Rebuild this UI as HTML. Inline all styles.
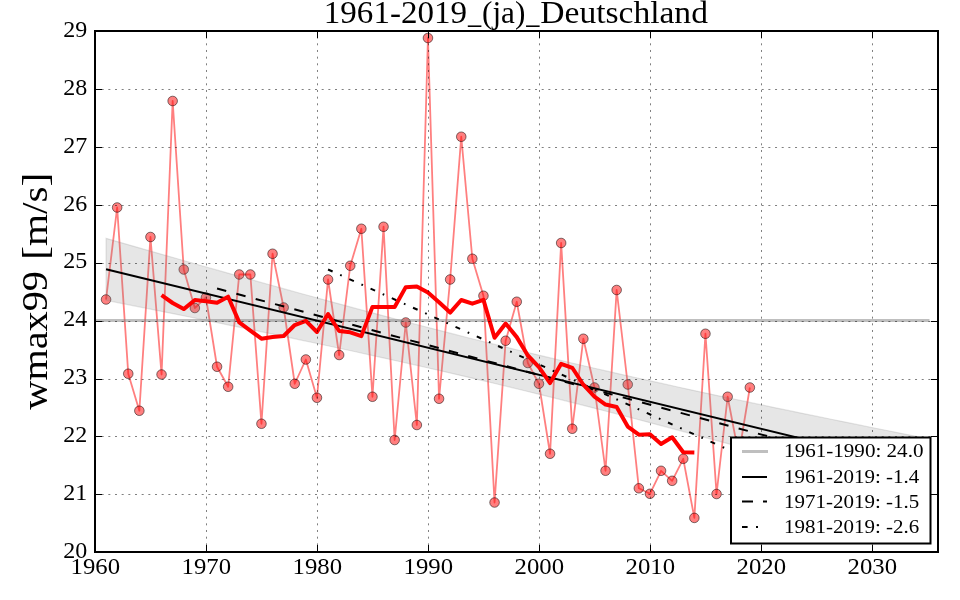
<!DOCTYPE html><html><head><meta charset="utf-8"><style>html,body{margin:0;padding:0;background:#fff;}svg{display:block;will-change:transform}</style></head><body>
<svg width="960" height="600" viewBox="0 0 960 600" font-family="'Liberation Serif', serif">
<rect width="960" height="600" fill="#fff"/>
<defs><clipPath id="ax"><rect x="95.0" y="31.0" width="843.0" height="520.8"/></clipPath></defs>
<g clip-path="url(#ax)">
<polyline points="106.05,299.5 117.15,207.5 128.25,373.75 139.35,410.75 150.45,237 161.55,374.5 172.65,101 183.75,269.5 194.85,308 205.95,297.5 217.05,366.75 228.15,386.75 239.25,274.5 250.35,274.5 261.45,423.75 272.55,253.75 283.65,307.5 294.75,383.75 305.85,359.5 316.95,397.75 328.05,279.5 339.15,355 350.25,265.75 361.35,228.75 372.45,396.75 383.55,226.75 394.65,440 405.75,322.5 416.85,425 427.95,38 439.05,398.75 450.15,279.5 461.25,136.75 472.35,258.75 483.45,295.75 494.55,502.5 505.65,340.75 516.75,301.75 527.85,363 538.95,383.75 550.05,453.75 561.15,243 572.25,428.75 583.35,338.75 594.45,387.5 605.55,470.75 616.65,290 627.75,384.5 638.85,488.3 649.95,493.8 661.05,470.8 672.15,480.8 683.25,458.8 694.35,517.9 705.45,333.75 716.55,494 727.65,396.75 738.75,455 749.85,387.5" fill="none" stroke="#ff0000" stroke-opacity="0.5" stroke-width="1.8" stroke-linejoin="round"/>
<circle cx="106.05" cy="299.5" r="4.8" fill="#ff0000" fill-opacity="0.5" stroke="#000" stroke-opacity="0.5" stroke-width="1"/>
<circle cx="117.15" cy="207.5" r="4.8" fill="#ff0000" fill-opacity="0.5" stroke="#000" stroke-opacity="0.5" stroke-width="1"/>
<circle cx="128.25" cy="373.75" r="4.8" fill="#ff0000" fill-opacity="0.5" stroke="#000" stroke-opacity="0.5" stroke-width="1"/>
<circle cx="139.35" cy="410.75" r="4.8" fill="#ff0000" fill-opacity="0.5" stroke="#000" stroke-opacity="0.5" stroke-width="1"/>
<circle cx="150.45" cy="237" r="4.8" fill="#ff0000" fill-opacity="0.5" stroke="#000" stroke-opacity="0.5" stroke-width="1"/>
<circle cx="161.55" cy="374.5" r="4.8" fill="#ff0000" fill-opacity="0.5" stroke="#000" stroke-opacity="0.5" stroke-width="1"/>
<circle cx="172.65" cy="101" r="4.8" fill="#ff0000" fill-opacity="0.5" stroke="#000" stroke-opacity="0.5" stroke-width="1"/>
<circle cx="183.75" cy="269.5" r="4.8" fill="#ff0000" fill-opacity="0.5" stroke="#000" stroke-opacity="0.5" stroke-width="1"/>
<circle cx="194.85" cy="308" r="4.8" fill="#ff0000" fill-opacity="0.5" stroke="#000" stroke-opacity="0.5" stroke-width="1"/>
<circle cx="205.95" cy="297.5" r="4.8" fill="#ff0000" fill-opacity="0.5" stroke="#000" stroke-opacity="0.5" stroke-width="1"/>
<circle cx="217.05" cy="366.75" r="4.8" fill="#ff0000" fill-opacity="0.5" stroke="#000" stroke-opacity="0.5" stroke-width="1"/>
<circle cx="228.15" cy="386.75" r="4.8" fill="#ff0000" fill-opacity="0.5" stroke="#000" stroke-opacity="0.5" stroke-width="1"/>
<circle cx="239.25" cy="274.5" r="4.8" fill="#ff0000" fill-opacity="0.5" stroke="#000" stroke-opacity="0.5" stroke-width="1"/>
<circle cx="250.35" cy="274.5" r="4.8" fill="#ff0000" fill-opacity="0.5" stroke="#000" stroke-opacity="0.5" stroke-width="1"/>
<circle cx="261.45" cy="423.75" r="4.8" fill="#ff0000" fill-opacity="0.5" stroke="#000" stroke-opacity="0.5" stroke-width="1"/>
<circle cx="272.55" cy="253.75" r="4.8" fill="#ff0000" fill-opacity="0.5" stroke="#000" stroke-opacity="0.5" stroke-width="1"/>
<circle cx="283.65" cy="307.5" r="4.8" fill="#ff0000" fill-opacity="0.5" stroke="#000" stroke-opacity="0.5" stroke-width="1"/>
<circle cx="294.75" cy="383.75" r="4.8" fill="#ff0000" fill-opacity="0.5" stroke="#000" stroke-opacity="0.5" stroke-width="1"/>
<circle cx="305.85" cy="359.5" r="4.8" fill="#ff0000" fill-opacity="0.5" stroke="#000" stroke-opacity="0.5" stroke-width="1"/>
<circle cx="316.95" cy="397.75" r="4.8" fill="#ff0000" fill-opacity="0.5" stroke="#000" stroke-opacity="0.5" stroke-width="1"/>
<circle cx="328.05" cy="279.5" r="4.8" fill="#ff0000" fill-opacity="0.5" stroke="#000" stroke-opacity="0.5" stroke-width="1"/>
<circle cx="339.15" cy="355" r="4.8" fill="#ff0000" fill-opacity="0.5" stroke="#000" stroke-opacity="0.5" stroke-width="1"/>
<circle cx="350.25" cy="265.75" r="4.8" fill="#ff0000" fill-opacity="0.5" stroke="#000" stroke-opacity="0.5" stroke-width="1"/>
<circle cx="361.35" cy="228.75" r="4.8" fill="#ff0000" fill-opacity="0.5" stroke="#000" stroke-opacity="0.5" stroke-width="1"/>
<circle cx="372.45" cy="396.75" r="4.8" fill="#ff0000" fill-opacity="0.5" stroke="#000" stroke-opacity="0.5" stroke-width="1"/>
<circle cx="383.55" cy="226.75" r="4.8" fill="#ff0000" fill-opacity="0.5" stroke="#000" stroke-opacity="0.5" stroke-width="1"/>
<circle cx="394.65" cy="440" r="4.8" fill="#ff0000" fill-opacity="0.5" stroke="#000" stroke-opacity="0.5" stroke-width="1"/>
<circle cx="405.75" cy="322.5" r="4.8" fill="#ff0000" fill-opacity="0.5" stroke="#000" stroke-opacity="0.5" stroke-width="1"/>
<circle cx="416.85" cy="425" r="4.8" fill="#ff0000" fill-opacity="0.5" stroke="#000" stroke-opacity="0.5" stroke-width="1"/>
<circle cx="427.95" cy="38" r="4.8" fill="#ff0000" fill-opacity="0.5" stroke="#000" stroke-opacity="0.5" stroke-width="1"/>
<circle cx="439.05" cy="398.75" r="4.8" fill="#ff0000" fill-opacity="0.5" stroke="#000" stroke-opacity="0.5" stroke-width="1"/>
<circle cx="450.15" cy="279.5" r="4.8" fill="#ff0000" fill-opacity="0.5" stroke="#000" stroke-opacity="0.5" stroke-width="1"/>
<circle cx="461.25" cy="136.75" r="4.8" fill="#ff0000" fill-opacity="0.5" stroke="#000" stroke-opacity="0.5" stroke-width="1"/>
<circle cx="472.35" cy="258.75" r="4.8" fill="#ff0000" fill-opacity="0.5" stroke="#000" stroke-opacity="0.5" stroke-width="1"/>
<circle cx="483.45" cy="295.75" r="4.8" fill="#ff0000" fill-opacity="0.5" stroke="#000" stroke-opacity="0.5" stroke-width="1"/>
<circle cx="494.55" cy="502.5" r="4.8" fill="#ff0000" fill-opacity="0.5" stroke="#000" stroke-opacity="0.5" stroke-width="1"/>
<circle cx="505.65" cy="340.75" r="4.8" fill="#ff0000" fill-opacity="0.5" stroke="#000" stroke-opacity="0.5" stroke-width="1"/>
<circle cx="516.75" cy="301.75" r="4.8" fill="#ff0000" fill-opacity="0.5" stroke="#000" stroke-opacity="0.5" stroke-width="1"/>
<circle cx="527.85" cy="363" r="4.8" fill="#ff0000" fill-opacity="0.5" stroke="#000" stroke-opacity="0.5" stroke-width="1"/>
<circle cx="538.95" cy="383.75" r="4.8" fill="#ff0000" fill-opacity="0.5" stroke="#000" stroke-opacity="0.5" stroke-width="1"/>
<circle cx="550.05" cy="453.75" r="4.8" fill="#ff0000" fill-opacity="0.5" stroke="#000" stroke-opacity="0.5" stroke-width="1"/>
<circle cx="561.15" cy="243" r="4.8" fill="#ff0000" fill-opacity="0.5" stroke="#000" stroke-opacity="0.5" stroke-width="1"/>
<circle cx="572.25" cy="428.75" r="4.8" fill="#ff0000" fill-opacity="0.5" stroke="#000" stroke-opacity="0.5" stroke-width="1"/>
<circle cx="583.35" cy="338.75" r="4.8" fill="#ff0000" fill-opacity="0.5" stroke="#000" stroke-opacity="0.5" stroke-width="1"/>
<circle cx="594.45" cy="387.5" r="4.8" fill="#ff0000" fill-opacity="0.5" stroke="#000" stroke-opacity="0.5" stroke-width="1"/>
<circle cx="605.55" cy="470.75" r="4.8" fill="#ff0000" fill-opacity="0.5" stroke="#000" stroke-opacity="0.5" stroke-width="1"/>
<circle cx="616.65" cy="290" r="4.8" fill="#ff0000" fill-opacity="0.5" stroke="#000" stroke-opacity="0.5" stroke-width="1"/>
<circle cx="627.75" cy="384.5" r="4.8" fill="#ff0000" fill-opacity="0.5" stroke="#000" stroke-opacity="0.5" stroke-width="1"/>
<circle cx="638.85" cy="488.3" r="4.8" fill="#ff0000" fill-opacity="0.5" stroke="#000" stroke-opacity="0.5" stroke-width="1"/>
<circle cx="649.95" cy="493.8" r="4.8" fill="#ff0000" fill-opacity="0.5" stroke="#000" stroke-opacity="0.5" stroke-width="1"/>
<circle cx="661.05" cy="470.8" r="4.8" fill="#ff0000" fill-opacity="0.5" stroke="#000" stroke-opacity="0.5" stroke-width="1"/>
<circle cx="672.15" cy="480.8" r="4.8" fill="#ff0000" fill-opacity="0.5" stroke="#000" stroke-opacity="0.5" stroke-width="1"/>
<circle cx="683.25" cy="458.8" r="4.8" fill="#ff0000" fill-opacity="0.5" stroke="#000" stroke-opacity="0.5" stroke-width="1"/>
<circle cx="694.35" cy="517.9" r="4.8" fill="#ff0000" fill-opacity="0.5" stroke="#000" stroke-opacity="0.5" stroke-width="1"/>
<circle cx="705.45" cy="333.75" r="4.8" fill="#ff0000" fill-opacity="0.5" stroke="#000" stroke-opacity="0.5" stroke-width="1"/>
<circle cx="716.55" cy="494" r="4.8" fill="#ff0000" fill-opacity="0.5" stroke="#000" stroke-opacity="0.5" stroke-width="1"/>
<circle cx="727.65" cy="396.75" r="4.8" fill="#ff0000" fill-opacity="0.5" stroke="#000" stroke-opacity="0.5" stroke-width="1"/>
<circle cx="738.75" cy="455" r="4.8" fill="#ff0000" fill-opacity="0.5" stroke="#000" stroke-opacity="0.5" stroke-width="1"/>
<circle cx="749.85" cy="387.5" r="4.8" fill="#ff0000" fill-opacity="0.5" stroke="#000" stroke-opacity="0.5" stroke-width="1"/>
<polygon points="106.05,238.31 119.97,242.33 133.89,246.33 147.82,250.33 161.74,254.32 175.66,258.29 189.58,262.26 203.5,266.21 217.43,270.15 231.35,274.08 245.27,277.99 259.19,281.88 273.11,285.76 287.04,289.63 300.96,293.47 314.88,297.29 328.8,301.09 342.72,304.87 356.65,308.63 370.57,312.36 384.49,316.07 398.41,319.75 412.33,323.4 426.26,327.03 440.18,330.62 454.1,334.18 468.02,337.71 481.94,341.21 495.87,344.68 509.79,348.11 523.71,351.51 537.63,354.87 551.56,358.2 565.48,361.5 579.4,364.76 593.32,368 607.24,371.2 621.17,374.37 635.09,377.51 649.01,380.62 662.93,383.71 676.85,386.77 690.78,389.8 704.7,392.81 718.62,395.8 732.54,398.76 746.46,401.71 760.39,404.64 774.31,407.55 788.23,410.44 802.15,413.31 816.07,416.17 830,419.02 843.92,421.85 857.84,424.67 871.76,427.48 885.68,430.28 899.61,433.07 913.53,435.85 927.45,438.61 927.45,500.01 913.53,496 899.61,491.99 885.68,488 871.76,484.02 857.84,480.05 843.92,476.09 830,472.14 816.07,468.21 802.15,464.29 788.23,460.38 774.31,456.5 760.39,452.62 746.46,448.77 732.54,444.94 718.62,441.12 704.7,437.33 690.78,433.56 676.85,429.82 662.93,426.09 649.01,422.4 635.09,418.73 621.17,415.09 607.24,411.48 593.32,407.91 579.4,404.36 565.48,400.84 551.56,397.36 537.63,393.91 523.71,390.5 509.79,387.11 495.87,383.76 481.94,380.45 468.02,377.17 454.1,373.92 440.18,370.7 426.26,367.51 412.33,364.36 398.41,361.23 384.49,358.13 370.57,355.06 356.65,352.01 342.72,348.99 328.8,345.99 314.88,343.01 300.96,340.05 287.04,337.12 273.11,334.2 259.19,331.3 245.27,328.41 231.35,325.54 217.43,322.69 203.5,319.85 189.58,317.02 175.66,314.21 161.74,311.4 147.82,308.61 133.89,305.83 119.97,303.05 106.05,300.29" fill="#808080" fill-opacity="0.2" stroke="#808080" stroke-opacity="0.2" stroke-width="1.2"/>
<line x1="95.0" y1="320.6" x2="929.5" y2="320.6" stroke="#808080" stroke-opacity="0.5" stroke-width="3"/>
<line x1="106.05" y1="269.3" x2="927.45" y2="469.31" stroke="#000" stroke-width="2"/>
<line x1="217.05" y1="288.57" x2="927.45" y2="479.09" stroke="#000" stroke-width="2" stroke-dasharray="9.5 10.5"/>
<line x1="328.05" y1="269.48" x2="927.45" y2="539.26" stroke="#000" stroke-width="2" stroke-dasharray="5 8.3 1.7 8.3"/>
<polyline points="161.55,295.07 172.65,303 183.75,309.09 194.85,300.07 205.95,301.25 217.05,302.77 228.15,296.68 239.25,322.39 250.35,330.57 261.45,338.73 272.55,337.09 283.65,336.02 294.75,325.02 305.85,320.86 316.95,331.98 328.05,314.07 339.15,331 350.25,332.36 361.35,336.11 372.45,306.89 383.55,306.98 394.65,306.98 405.75,287.14 416.85,286.5 427.95,292.59 439.05,302.2 450.15,312.57 461.25,300 472.35,303.68 483.45,299.93 494.55,337.73 505.65,323.57 516.75,337.14 527.85,355.5 538.95,367.2 550.05,383.11 561.15,363.8 572.25,367.77 583.35,384.73 594.45,396.62 605.55,404.54 616.65,407 627.75,426.61 638.85,434.72 649.95,434.26 661.05,443.95 672.15,437.22 683.25,452.22 694.35,452.49" fill="none" stroke="#ff0000" stroke-width="4" stroke-linejoin="round"/>
</g>
<g stroke="#000" stroke-width="1" stroke-opacity="0.5" stroke-dasharray="2 4.667"><line x1="206.5" y1="552" x2="206.5" y2="31.0"/><line x1="317.5" y1="552" x2="317.5" y2="31.0"/><line x1="428.5" y1="552" x2="428.5" y2="31.0"/><line x1="539.5" y1="552" x2="539.5" y2="31.0"/><line x1="650.5" y1="552" x2="650.5" y2="31.0"/><line x1="761.5" y1="552" x2="761.5" y2="31.0"/><line x1="872.5" y1="552" x2="872.5" y2="31.0"/><line x1="95.0" y1="494.5" x2="938.0" y2="494.5"/><line x1="95.0" y1="436.5" x2="938.0" y2="436.5"/><line x1="95.0" y1="379.5" x2="938.0" y2="379.5"/><line x1="95.0" y1="321.5" x2="938.0" y2="321.5"/><line x1="95.0" y1="263.5" x2="938.0" y2="263.5"/><line x1="95.0" y1="205.5" x2="938.0" y2="205.5"/><line x1="95.0" y1="147.5" x2="938.0" y2="147.5"/><line x1="95.0" y1="89.5" x2="938.0" y2="89.5"/></g>
<g stroke="#000" stroke-width="1"><line x1="95.5" y1="552" x2="95.5" y2="545"/><line x1="95.5" y1="31.0" x2="95.5" y2="38.0"/><line x1="206.5" y1="552" x2="206.5" y2="545"/><line x1="206.5" y1="31.0" x2="206.5" y2="38.0"/><line x1="317.5" y1="552" x2="317.5" y2="545"/><line x1="317.5" y1="31.0" x2="317.5" y2="38.0"/><line x1="428.5" y1="552" x2="428.5" y2="545"/><line x1="428.5" y1="31.0" x2="428.5" y2="38.0"/><line x1="539.5" y1="552" x2="539.5" y2="545"/><line x1="539.5" y1="31.0" x2="539.5" y2="38.0"/><line x1="650.5" y1="552" x2="650.5" y2="545"/><line x1="650.5" y1="31.0" x2="650.5" y2="38.0"/><line x1="761.5" y1="552" x2="761.5" y2="545"/><line x1="761.5" y1="31.0" x2="761.5" y2="38.0"/><line x1="872.5" y1="552" x2="872.5" y2="545"/><line x1="872.5" y1="31.0" x2="872.5" y2="38.0"/><line x1="95.0" y1="551.5" x2="102.0" y2="551.5"/><line x1="938.0" y1="551.5" x2="931.0" y2="551.5"/><line x1="95.0" y1="494.5" x2="102.0" y2="494.5"/><line x1="938.0" y1="494.5" x2="931.0" y2="494.5"/><line x1="95.0" y1="436.5" x2="102.0" y2="436.5"/><line x1="938.0" y1="436.5" x2="931.0" y2="436.5"/><line x1="95.0" y1="379.5" x2="102.0" y2="379.5"/><line x1="938.0" y1="379.5" x2="931.0" y2="379.5"/><line x1="95.0" y1="321.5" x2="102.0" y2="321.5"/><line x1="938.0" y1="321.5" x2="931.0" y2="321.5"/><line x1="95.0" y1="263.5" x2="102.0" y2="263.5"/><line x1="938.0" y1="263.5" x2="931.0" y2="263.5"/><line x1="95.0" y1="205.5" x2="102.0" y2="205.5"/><line x1="938.0" y1="205.5" x2="931.0" y2="205.5"/><line x1="95.0" y1="147.5" x2="102.0" y2="147.5"/><line x1="938.0" y1="147.5" x2="931.0" y2="147.5"/><line x1="95.0" y1="89.5" x2="102.0" y2="89.5"/><line x1="938.0" y1="89.5" x2="931.0" y2="89.5"/><line x1="95.0" y1="31.5" x2="102.0" y2="31.5"/><line x1="938.0" y1="31.5" x2="931.0" y2="31.5"/></g>
<rect x="95" y="31" width="843" height="521" fill="none" stroke="#000" stroke-width="2"/>
<g fill="#000"><text x="87.3" y="557.8" text-anchor="end" font-size="22.5" textLength="24" lengthAdjust="spacingAndGlyphs">20</text><text x="87.3" y="499.92" text-anchor="end" font-size="22.5" textLength="24" lengthAdjust="spacingAndGlyphs">21</text><text x="87.3" y="442.04" text-anchor="end" font-size="22.5" textLength="24" lengthAdjust="spacingAndGlyphs">22</text><text x="87.3" y="384.16" text-anchor="end" font-size="22.5" textLength="24" lengthAdjust="spacingAndGlyphs">23</text><text x="87.3" y="326.28" text-anchor="end" font-size="22.5" textLength="24" lengthAdjust="spacingAndGlyphs">24</text><text x="87.3" y="268.4" text-anchor="end" font-size="22.5" textLength="24" lengthAdjust="spacingAndGlyphs">25</text><text x="87.3" y="210.52" text-anchor="end" font-size="22.5" textLength="24" lengthAdjust="spacingAndGlyphs">26</text><text x="87.3" y="152.64" text-anchor="end" font-size="22.5" textLength="24" lengthAdjust="spacingAndGlyphs">27</text><text x="87.3" y="94.76" text-anchor="end" font-size="22.5" textLength="24" lengthAdjust="spacingAndGlyphs">28</text><text x="87.3" y="36.88" text-anchor="end" font-size="22.5" textLength="24" lengthAdjust="spacingAndGlyphs">29</text><text x="95.35" y="574" text-anchor="middle" font-size="22.5" textLength="49.5" lengthAdjust="spacingAndGlyphs">1960</text><text x="206.35" y="574" text-anchor="middle" font-size="22.5" textLength="49.5" lengthAdjust="spacingAndGlyphs">1970</text><text x="317.35" y="574" text-anchor="middle" font-size="22.5" textLength="49.5" lengthAdjust="spacingAndGlyphs">1980</text><text x="428.35" y="574" text-anchor="middle" font-size="22.5" textLength="49.5" lengthAdjust="spacingAndGlyphs">1990</text><text x="539.35" y="574" text-anchor="middle" font-size="22.5" textLength="49.5" lengthAdjust="spacingAndGlyphs">2000</text><text x="650.35" y="574" text-anchor="middle" font-size="22.5" textLength="49.5" lengthAdjust="spacingAndGlyphs">2010</text><text x="761.35" y="574" text-anchor="middle" font-size="22.5" textLength="49.5" lengthAdjust="spacingAndGlyphs">2020</text><text x="872.35" y="574" text-anchor="middle" font-size="22.5" textLength="49.5" lengthAdjust="spacingAndGlyphs">2030</text></g>
<text x="323.79" y="22.5" font-size="31" textLength="143.27" lengthAdjust="spacingAndGlyphs">1961-2019</text>
<text x="468.01" y="22.5" font-size="31" textLength="13.18" lengthAdjust="spacingAndGlyphs">_</text>
<text x="482.03" y="22.5" font-size="31" textLength="43.34" lengthAdjust="spacingAndGlyphs">(ja)</text>
<text x="526.31" y="22.5" font-size="31" textLength="13.18" lengthAdjust="spacingAndGlyphs">_</text>
<text x="540.31" y="22.5" font-size="31" textLength="167.61" lengthAdjust="spacingAndGlyphs">Deutschland</text>
<g transform="translate(46.5,0) rotate(-90)">
<text x="-409.70" y="0" font-size="35.5" textLength="138.69" lengthAdjust="spacingAndGlyphs">wmax99</text>
<text x="-259.75" y="0" font-size="35.5" textLength="87.04" lengthAdjust="spacingAndGlyphs">[m/s]</text>
</g>
<rect x="731" y="437.5" width="199.5" height="106" fill="#fff" stroke="#000" stroke-width="2"/>
<line x1="742" y1="451.5" x2="768" y2="451.5" stroke="#808080" stroke-opacity="0.5" stroke-width="3"/>
<line x1="742" y1="477" x2="767" y2="477" stroke="#000" stroke-width="2"/>
<line x1="742" y1="501.5" x2="767" y2="501.5" stroke="#000" stroke-width="2" stroke-dasharray="11 10"/>
<line x1="742" y1="527" x2="765" y2="527" stroke="#000" stroke-width="2" stroke-dasharray="5.6 8.4 2 8"/>
<text x="784.1" y="456.7" font-size="17.8" textLength="139.4" lengthAdjust="spacingAndGlyphs">1961-1990: 24.0</text>
<text x="784.1" y="483" font-size="17.8" textLength="135.2" lengthAdjust="spacingAndGlyphs">1961-2019: -1.4</text>
<text x="784.1" y="507.5" font-size="17.8" textLength="135.2" lengthAdjust="spacingAndGlyphs">1971-2019: -1.5</text>
<text x="784.1" y="532.5" font-size="17.8" textLength="135.2" lengthAdjust="spacingAndGlyphs">1981-2019: -2.6</text>
</svg></body></html>
